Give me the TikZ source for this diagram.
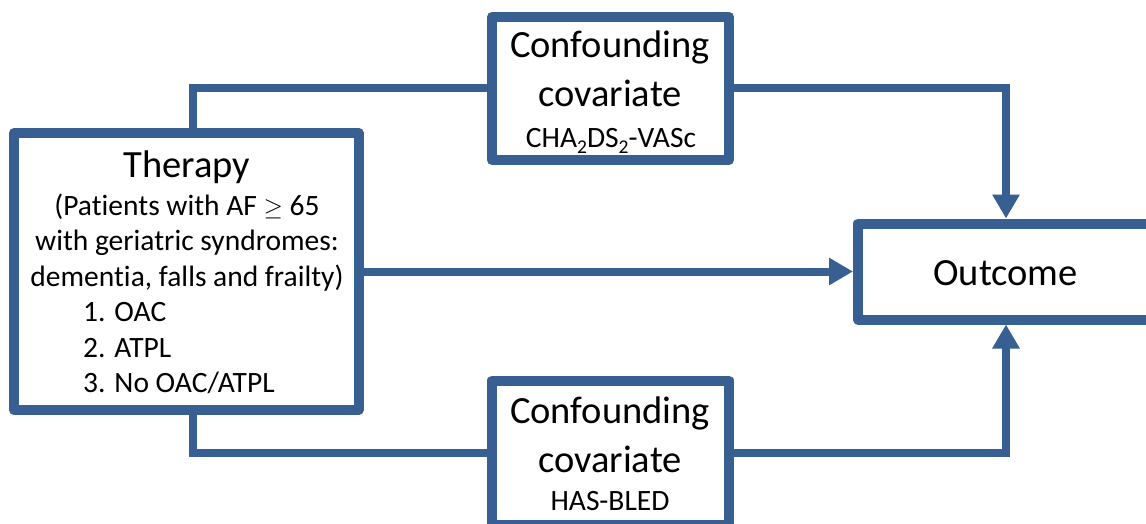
\documentclass[tikz,border=0pt]{standalone}
\usepackage{fontspec}
\setmainfont{Carlito}[Ligatures={NoCommon,NoContextual}, RawFeature={-liga;-clig;-dlig}]
\usetikzlibrary{arrows.meta}
\definecolor{boxblue}{HTML}{375F92}
\newcommand{\bigtxt}{\fontsize{38.5}{46}\selectfont}
\newcommand{\smalltxt}{\fontsize{29.5}{35.5}\selectfont}
\newcommand{\subtwo}{\raisebox{-0.22em}{\fontsize{19.5}{20}\selectfont 2}}
\tikzset{
  box/.style={draw=boxblue, line width=10pt, fill=white, rectangle, line join=round, inner sep=0pt},
  conn/.style={draw=boxblue, line width=8pt, line join=miter},
  arr/.style={conn, -{Triangle[width=26pt,length=24pt]}},
  big/.style={anchor=base, inner sep=0pt, font=\bigtxt},
  small/.style={anchor=base, inner sep=0pt, font=\smalltxt},
  item/.style={anchor=base west, inner sep=0pt, font=\smalltxt},
}
\begin{document}
\begin{tikzpicture}[x=1pt, y=-1pt]
\useasboundingbox (0,0) rectangle (1146,524);
\clip (0,0) rectangle (1146,524);
\fill[white] (0,0) rectangle (1146,524);

% boxes
\node[box, minimum width=344.5pt, minimum height=277pt] (therapy) at (186.25,271.5) {};
\node[box, minimum width=237pt, minimum height=143pt] (top) at (610.5,88.5) {};
\node[box, minimum width=237pt, minimum height=144pt] (bottom) at (610.5,452.5) {};
\node[box, minimum width=294pt, minimum height=96pt] (outcome) at (1005,271.5) {};

% connectors
\draw[conn] ([xshift=6.25pt]therapy.north) |- (top.west);
\draw[arr] (top.east) -| ([xshift=1pt]outcome.north);
\draw[arr] (therapy.east) -- (outcome.west);
\draw[conn] ([xshift=6.25pt]therapy.south) |- (bottom.west);
\draw[arr] (bottom.east) -| ([xshift=1pt]outcome.south);

% therapy text
\node[big] (th1) at (187,177) {Therapy};
\node[small] (th2) at (187,215) {(Patients with AF $\geq$ 65};
\node[small] (th3) at (187,250.5) {with geriatric syndromes:};
\node[small] (th4) at (187,286) {dementia, falls and frailty)};
\node[item] (th5) at (83,321.5) {1. OAC};
\node[item] (th6) at (83,357) {2. ATPL};
\node[item] (th7) at (83,392.5) {3. No OAC/ATPL};

% top confounder text
\node[big] (tc1) at (610,58) {Confounding};
\node[big] (tc2) at (610,107) {covariate};
\node[small] (tc3) at (611,147) {CHA\subtwo DS\subtwo-VASc};

% bottom confounder text
\node[big] (bc1) at (610,423) {Confounding};
\node[big] (bc2) at (610,472) {covariate};
\node[small] (bc3) at (610,510) {HAS-BLED};

% outcome text
\node[big] (oc) at (1005.5,285) {Outcome};
\end{tikzpicture}
\end{document}
